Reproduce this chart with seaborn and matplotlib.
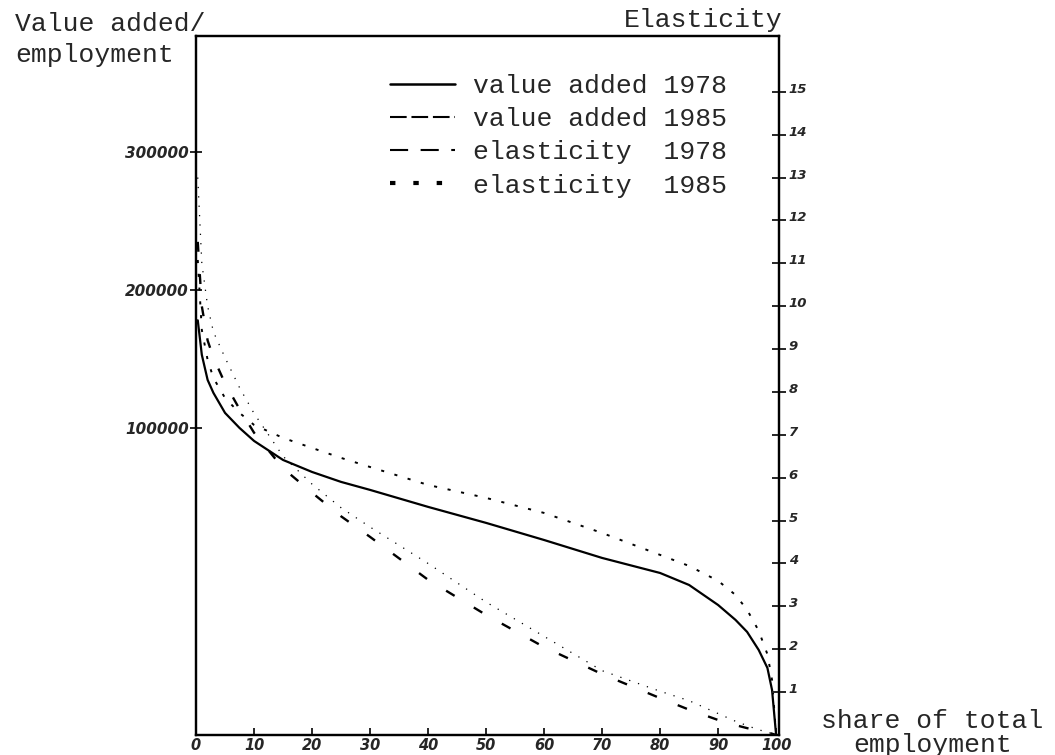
import numpy as np
import pandas as pd
import seaborn as sns
import matplotlib.pyplot as plt
import matplotlib.transforms as mtransforms
from matplotlib.lines import Line2D

# share of total employment (%)
share = [0.3, 1, 2, 3, 5, 7.5, 10, 15, 20, 25, 30, 40, 50, 60, 70, 80, 85, 90, 93, 95, 97, 98.5, 99.3, 100]

# value added / employment (left axis)
va_1978 = [178000, 153000, 134800, 125400, 110900, 100000, 90600, 76800, 68100, 60900, 55100, 42800,
           31200, 18800, 5800, -5100, -13800, -28300, -39100, -47800, -60900, -73900, -89900, -122500]
va_1985 = [221700, 171000, 149300, 136200, 121700, 110900, 102200, 92800, 85500, 78300, 71700, 58700,
           49300, 38400, 23900, 8000, 0, -10800, -21000, -31800, -47000, -64000, -82600, -122500]

# elasticity (right axis)
el_1978 = [11.5, 10.0, 9.2, 8.8, 8.2, 7.6, 7.05, 6.22, 5.65, 5.1, 4.62, 3.62,
           2.8, 2.05, 1.42, 0.86, 0.59, 0.35, 0.23, 0.16, 0.1, 0.06, 0.03, 0.0]
el_1985 = [13.0, 11.0, 10.0, 9.4, 8.8, 8.1, 7.5, 6.5, 5.85, 5.3, 4.85, 4.0,
           3.1, 2.3, 1.5, 1.02, 0.8, 0.5, 0.32, 0.22, 0.12, 0.07, 0.03, 0.0]

labels = ["value added 1978", "value added 1985", "elasticity  1978", "elasticity  1985"]
x_ticks = list(range(0, 101, 10))
left_ticks = [100000, 200000, 300000]
right_ticks = list(range(1, 16))

sns.set_style("ticks")
plt.rcParams['font.family'] = ['DejaVu Sans']
mono = "Liberation Mono"

fig = plt.figure(figsize=(10.55, 7.55), dpi=100)
ax = fig.add_axes([0.1858, 0.0265, 0.5526, 0.9258])
ax2 = ax.twinx()

sns.lineplot(x=share, y=va_1978, ax=ax, color="black", lw=1.6, linestyle="-")
sns.lineplot(x=share, y=va_1985, ax=ax, color="black", lw=1.4, linestyle=(0, (1.6, 5.5)))
sns.lineplot(x=share, y=el_1978, ax=ax2, color="black", lw=1.7, linestyle=(0, (4.2, 9.5)))
sns.lineplot(x=share, y=el_1985, ax=ax2, color="black", lw=0.9, linestyle=(0, (1, 6.5)))

ax.set_xlim(0, 100.5)
ax.set_ylim(-122500, 384000)
ax2.set_ylim(0, 16.3)

ax.set_xticks(x_ticks)
ax.set_yticks(left_ticks)
ax.set_yticklabels([str(v) for v in left_ticks])
ax2.set_yticks(right_ticks)

for a in (ax, ax2):
    for s in a.spines.values():
        s.set_linewidth(1.6)
        s.set_color("black")

ax.tick_params(axis="x", direction="in", length=5, width=1.4, pad=2, labelsize=10.5)
ax.tick_params(axis="y", direction="inout", length=8, width=1.4, pad=1, labelsize=11)
ax2.tick_params(axis="y", direction="inout", length=10, width=1.4, pad=2, labelsize=9.5)
for lab in ax.get_xticklabels() + ax.get_yticklabels() + ax2.get_yticklabels():
    lab.set_fontstyle("italic")
    lab.set_fontweight("bold")

# right labels sit a bit above their ticks
up = mtransforms.ScaledTranslation(0, 4 / 100, fig.dpi_scale_trans)
for lab in ax2.get_yticklabels():
    lab.set_transform(lab.get_transform() + up)

ax.set_xlabel("")
ax.set_ylabel("")
ax2.set_ylabel("")

# legend
handles = [
    Line2D([], [], color="black", lw=1.8, linestyle="-"),
    Line2D([], [], color="black", lw=1.5, linestyle=(0, (8, 2.3))),
    Line2D([], [], color="black", lw=1.5, linestyle=(0, (8.7, 6))),
    Line2D([], [], color="black", lw=3, linestyle=(0, (1.3, 4.3))),
]
fig.legend(handles, labels, loc="upper left", bbox_to_anchor=(0.37, 0.902),
           frameon=False, prop={"family": mono, "size": 19}, handlelength=2.45,
           handletextpad=0.7, labelspacing=0.35, borderpad=0, borderaxespad=0)

fig.text(0.014, 0.984, "Value added/\nemployment", ha="left", va="top",
         family=mono, size=19, linespacing=1.35)
fig.text(0.742, 0.99, "Elasticity", ha="right", va="top", family=mono, size=19)
fig.text(0.884, 0.061, "share of total\nemployment", ha="center", va="top",
         family=mono, size=19, linespacing=1.0)

fig.savefig("out.png", dpi=100)
